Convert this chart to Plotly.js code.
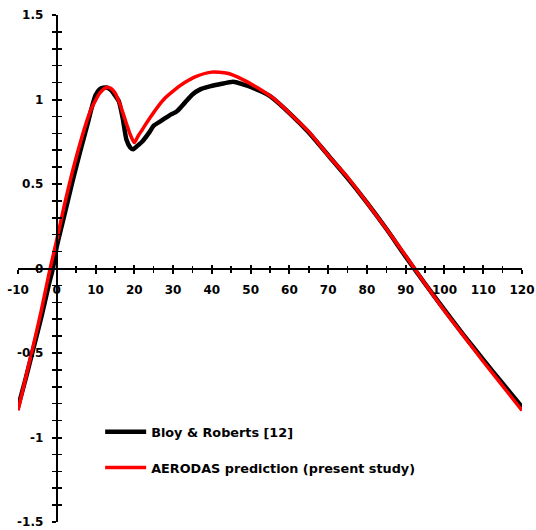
<!DOCTYPE html>
<html>
<head>
<meta charset="utf-8">
<script src="https://cdn.plot.ly/plotly-3.0.1.min.js"></script>
<style>
  html, body { margin: 0; padding: 0; background: #fff; }
  #chart { width: 536px; height: 530px; }
</style>
</head>
<body>
<div id="chart"></div>
<script>
// Angle of attack (deg) and normal-force coefficient, experiment
const bloyAlpha = [-10, -8, -6, -4, -2, -1, 0, 2, 4, 6, 8, 9, 10, 11, 12, 13, 14, 15, 16, 17, 18, 19, 19.7, 21, 22, 24, 25, 27, 29, 31, 33, 35, 37, 39, 42, 45.5, 48, 50, 52, 55, 60, 65, 70, 75, 80, 85, 90, 95, 100, 105, 110, 115, 120];
const bloyCoef  = [-0.82, -0.65, -0.47, -0.29, -0.09, 0.0, 0.13, 0.32, 0.51, 0.69, 0.86, 0.95, 1.025, 1.06, 1.07, 1.07, 1.055, 1.025, 0.99, 0.89, 0.76, 0.715, 0.705, 0.73, 0.75, 0.81, 0.845, 0.875, 0.905, 0.93, 0.98, 1.03, 1.06, 1.075, 1.09, 1.105, 1.09, 1.075, 1.055, 1.02, 0.92, 0.805, 0.67, 0.535, 0.39, 0.235, 0.07, -0.09, -0.245, -0.395, -0.54, -0.68, -0.82];

// Model prediction
const aerodasAlpha = [-10, -8, -6, -4, -2, 0, 2, 4, 6, 8, 9, 10, 11, 12, 13, 14, 15, 16, 17, 18, 19, 20, 21, 22, 24, 26, 28, 30, 33, 36, 40, 44, 48, 52, 56, 60, 65, 70, 75, 80, 85, 90, 95, 100, 105, 110, 115, 120];
const aerodasCoef  = [-0.84, -0.645, -0.45, -0.25, -0.03, 0.17, 0.38, 0.57, 0.74, 0.89, 0.95, 0.995, 1.035, 1.06, 1.073, 1.065, 1.04, 0.99, 0.925, 0.855, 0.79, 0.745, 0.785, 0.82, 0.89, 0.955, 1.01, 1.05, 1.10, 1.137, 1.162, 1.155, 1.118, 1.066, 1.005, 0.92, 0.81, 0.67, 0.54, 0.39, 0.235, 0.075, -0.09, -0.25, -0.40, -0.55, -0.695, -0.84];

const seriesNames = ['Bloy & Roberts [12]', 'AERODAS prediction (present study)'];

// Axis ranges and tick labels
const xRange = [-10, 120];
const yRange = [-1.5, 1.5];
const xTickVals = [-10, 0, 10, 20, 30, 40, 50, 60, 70, 80, 90, 100, 110, 120];
const xTickText = ['-10', '0', '10', '20', '30', '40', '50', '60', '70', '80', '90', '100', '110', '120'];
const yTickVals = [-1.5, -1, -0.5, 0, 0.5, 1, 1.5];
const yTickText = ['-1.5', '-1', '-0.5', '0', '0.5', '1', '1.5'];

// axes cross at the origin
const xAxisPos = (0 - yRange[0]) / (yRange[1] - yRange[0]);
const yAxisPos = (0 - xRange[0]) / (xRange[1] - xRange[0]);

const tickFont = { family: 'DejaVu Sans, Verdana, sans-serif', size: 12, color: '#000', weight: 700 };

const traces = [
  {
    x: bloyAlpha, y: bloyCoef, name: seriesNames[0], mode: 'lines',
    line: { color: '#000', width: 4.5, shape: 'spline', smoothing: 0.6 },
    legendgroup: 'a'
  },
  {
    x: aerodasAlpha, y: aerodasCoef, name: seriesNames[1], mode: 'lines',
    line: { color: '#ff0000', width: 3.5, shape: 'spline', smoothing: 0.6 },
    legendgroup: 'b'
  },
  // carries the second (inward-tick) pair of axes
  { x: [null], y: [null], xaxis: 'x2', yaxis: 'y2', mode: 'lines', showlegend: false, hoverinfo: 'skip' }
];

const baseX = {
  range: xRange, showgrid: false, zeroline: false,
  tickmode: 'array', tickvals: xTickVals,
  ticklen: 4, tickwidth: 2, tickcolor: '#000',
  anchor: 'free', position: xAxisPos
};
const baseY = {
  range: yRange, showgrid: false, zeroline: false,
  tickmode: 'array', tickvals: yTickVals,
  ticklen: 4, tickwidth: 2, tickcolor: '#000',
  anchor: 'free', position: yAxisPos
};

const layout = {
  width: 536, height: 530,
  margin: { l: 18, r: 14, t: 15, b: 8 },
  paper_bgcolor: '#fff', plot_bgcolor: '#fff',
  showlegend: true,
  legend: {
    x: 0.163, y: 0.207, xanchor: 'left', yanchor: 'top',
    font: { family: 'DejaVu Sans, Verdana, sans-serif', size: 12.8, color: '#000', weight: 700 },
    bgcolor: 'rgba(0,0,0,0)', traceorder: 'grouped', tracegroupgap: 16, itemwidth: 41
  },
  xaxis: Object.assign({}, baseX, {
    showline: true, linecolor: '#000', linewidth: 2.5,
    ticks: 'outside', ticktext: xTickText, tickfont: tickFont, ticklabelstandoff: 6,
    minor: { tickmode: 'linear', tick0: 0, dtick: 5, ticks: 'outside', ticklen: 2.5, tickwidth: 1.5, tickcolor: '#000' }
  }),
  yaxis: Object.assign({}, baseY, {
    showline: true, linecolor: '#000', linewidth: 2.5,
    ticks: 'outside', ticktext: yTickText, tickfont: tickFont, ticklabelstandoff: 6,
    minor: { tickmode: 'linear', tick0: 0, dtick: 0.1, ticks: 'outside', ticklen: 4, tickwidth: 1.5, tickcolor: '#000' }
  }),
  xaxis2: Object.assign({}, baseX, {
    overlaying: 'x', showline: false, ticks: 'inside', showticklabels: false,
    minor: { tickmode: 'linear', tick0: 0, dtick: 5, ticks: 'inside', ticklen: 2.5, tickwidth: 1.5, tickcolor: '#000' }
  }),
  yaxis2: Object.assign({}, baseY, {
    overlaying: 'y', showline: false, ticks: 'inside', showticklabels: false,
    minor: { tickmode: 'linear', tick0: 0, dtick: 0.1, ticks: 'inside', ticklen: 4, tickwidth: 1.5, tickcolor: '#000' }
  })
};

Plotly.newPlot('chart', traces, layout, { staticPlot: true, displayModeBar: false });
</script>
</body>
</html>
